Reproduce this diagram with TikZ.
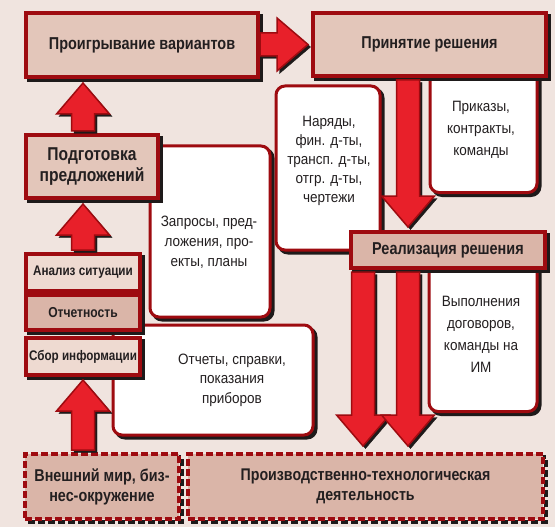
\documentclass[tikz,border=0pt]{standalone}
\usepackage{fontspec}
\setmainfont{Liberation Sans}[FakeStretch=0.9]
\newfontfamily\condb{Liberation Sans}[FakeStretch=0.84]
\usetikzlibrary{calc}
\definecolor{bgc}{HTML}{F0E4DF}
\definecolor{boxc}{HTML}{E3C6BA}
\definecolor{boxd}{HTML}{DAB5A8}
\definecolor{boxl}{HTML}{EEDAD1}
\definecolor{bord}{HTML}{9E0B10}
\definecolor{arrc}{HTML}{E8202A}
\definecolor{shd}{HTML}{1E1A1A}
\definecolor{txt}{HTML}{231F20}
\newcommand{\aws}{11.5pt}
\newcommand{\ahw}{26.5pt}
\newcommand{\ahl}{31pt}
\tikzset{
  shadowed/.style={preaction={draw=shd, fill=shd, line width=#1, transform canvas={shift={(3pt,-3pt)}}}},
  box/.style={shadowed=4pt, draw=bord, line width=4pt, fill=boxc, inner sep=0pt, anchor=north west,
    text=txt, align=center, font=\condb\bfseries\fontsize{17.2}{19}\selectfont},
  smallbox/.style={box, font=\condb\bfseries\fontsize{13.9}{15}\selectfont},
  dbox/.style={preaction={draw=shd, line width=4pt, dash pattern=on 7pt off 3pt, transform canvas={shift={(2.5pt,-2.5pt)}}},
    draw=bord, line width=4pt, dash pattern=on 7pt off 3pt, fill=boxd, inner sep=0pt, anchor=north west,
    text=txt, align=center, font=\condb\bfseries\fontsize{17.1}{20}\selectfont},
  wbox/.style={shadowed=3pt, draw=bord, line width=3pt, fill=white, rounded corners=9pt, anchor=north west, inner sep=0pt},
  wtext/.style={text=txt, align=center, inner sep=0pt, font=\fontsize{15}{#1}\selectfont},
  wtext/.default=20,
  barrow/.style={draw=bord, fill=arrc, line width=1.5pt, line join=miter,
    preaction={draw=shd, fill=shd, transform canvas={shift={(2.5pt,-2.5pt)}}}},
}
% vertical block arrow: #1 start, #2 tip (x taken from tip)
\newcommand{\varrow}[2]{%
  \path[barrow] let \p1=(#1), \p2=(#2), \p3=($(\p2)!\ahl!(\p1)$) in
    (\x2-\aws,\y1) -- (\x2-\aws,\y3) -- (\x2-\ahw,\y3) -- (\x2,\y2) -- (\x2+\ahw,\y3)
    -- (\x2+\aws,\y3) -- (\x2+\aws,\y1) -- cycle;}
% horizontal block arrow: #1 start, #2 tip (y taken from tip)
\newcommand{\harrow}[2]{%
  \path[barrow] let \p1=(#1), \p2=(#2), \p3=($(\p2)!\ahl!(\p1)$) in
    (\x1,\y2-\aws) -- (\x3,\y2-\aws) -- (\x3,\y2-\ahw) -- (\x2,\y2) -- (\x3,\y2+\ahw)
    -- (\x3,\y2+\aws) -- (\x1,\y2+\aws) -- cycle;}
\begin{document}
\begin{tikzpicture}[x=1pt,y=-1pt]
\fill[bgc] (0,0) rectangle (555,527);
\useasboundingbox (0,0) rectangle (555,527);

% white boxes
\node[wbox, minimum width=120pt, minimum height=171pt] (zap) at (148.5,144.5) {};
\node[wbox, minimum width=104pt, minimum height=164pt] (nar) at (274.5,84.5) {};
\node[wbox, minimum width=107pt, minimum height=131pt] (prik) at (428.5,60) {};
\node[wbox, minimum width=200pt, minimum height=110pt] (otchw) at (111.5,323.5) {};
\node[wbox, minimum width=108pt, minimum height=155pt] (vyp) at (427.5,255) {};

\node[wtext] (zapt) at (209,242) {Запросы, пред-\\ложения, про-\\екты, планы};
\node[wtext=19] (nart) at (329,161) {Наряды,\\фин. д-ты,\\трансп. д-ты,\\отгр. д-ты,\\чертежи};
\node[wtext=22] (prikt) at (481,130) {Приказы,\\контракты,\\команды};
\node[wtext=19.5] (otchwt) at (232,380) {Отчеты, справки,\\показания\\приборов};
\node[wtext=22] (vypt) at (481,334) {Выполнения\\договоров,\\команды на\\ИМ};

% colored boxes
\node[box, minimum width=232pt, minimum height=64pt] (prog) at (24,11) {Проигрывание вариантов};
\node[box, minimum width=233pt, minimum height=63pt] (prin) at (311,11) {Принятие решения};
\node[box, minimum width=132pt, minimum height=63pt, font=\condb\bfseries\fontsize{18.6}{21}\selectfont] (pod) at (24,133) {Подготовка\\предложений};
\node[smallbox, fill=boxl, minimum width=114pt, minimum height=37pt] (anal) at (24,252) {Анализ ситуации};
\node[smallbox, fill=boxd, minimum width=114pt, minimum height=35pt, font=\condb\bfseries\fontsize{14.4}{15}\selectfont] (otch) at (24,293) {Отчетность};
\node[smallbox, fill=boxl, minimum width=114pt, minimum height=37pt] (sbor) at (24,336) {Сбор информации};
\node[box, fill=boxd, minimum width=194pt, minimum height=36pt] (real) at (349,230) {Реализация решения};
\node[dbox, minimum width=154pt, minimum height=65pt] (vnesh) at (23,452) {Внешний мир, биз-\\нес-окружение};
\node[dbox, minimum width=355pt, minimum height=65pt, font=\condb\bfseries\fontsize{16.9}{20}\selectfont] (proizv) at (186,452) {Производственно-технологическая\\деятельность};

\coordinate (ax1) at ($(real.south west)+(14,0)$);
\coordinate (ax2) at ($(real.south west)+(59,0)$);

% block arrows
\harrow{prog.east}{$(prin.west)+(-3,0)$}
\varrow{$(anal.north |- pod.north)+(0,-2)$}{$(anal.north |- prog.south)+(0,4)$}
\varrow{$(anal.north)+(0,-2)$}{$(anal.north |- pod.south)+(0,4)$}
\varrow{$(anal.north |- vnesh.north)+(0,-2)$}{$(anal.north |- sbor.south)+(0,3)$}
\varrow{$(ax2 |- prin.south)+(0,2)$}{$(ax2 |- real.north)+(0,-3)$}
\varrow{$(ax1)+(0,2)$}{$(ax1 |- proizv.north)+(0,-6)$}
\varrow{$(ax2)+(0,2)$}{$(ax2 |- proizv.north)+(0,-6)$}
\end{tikzpicture}
\end{document}
